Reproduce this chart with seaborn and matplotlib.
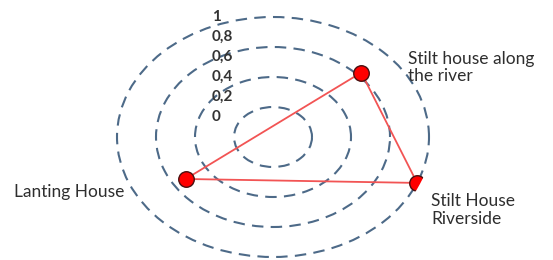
import numpy as np
import matplotlib
matplotlib.use("Agg")
import matplotlib.pyplot as plt
import seaborn as sns
import pandas as pd

# --- data --------------------------------------------------------
categories = ["Stilt house along\nthe river", "Stilt House\nRiverside", "Lanting House"]
values = [0.78, 1.0, 0.66]
angles_deg = [43.5, -22.5, 212.0]          # direction of each category axis
ring_levels = [0.25, 0.5, 0.75, 1.0]
scale_labels = ["1", "0,8", "0,6", "0,4", "0,2", "0"]

sns.set_style("white")
plt.rcParams["font.family"] = ["Lato", "DejaVu Sans"]

W, H = 553, 260
fig = plt.figure(figsize=(W / 100, H / 100), dpi=100)

cx, cy, rx, ry = 273, 137, 156, 120
pad = 1.02
ax = fig.add_axes([(cx - rx * pad) / W, (H - cy - ry * pad) / H,
                   2 * rx * pad / W, 2 * ry * pad / H], projection="polar")
ax.set_aspect("auto")
ax.set_ylim(0, pad)
ax.set_xticks([])
ax.set_yticks(ring_levels)
ax.set_yticklabels([])
ax.xaxis.grid(False)
ax.yaxis.grid(True, color="#4d6a88", linestyle=(0, (5.5, 3.5)), linewidth=1.5)
ax.spines["polar"].set_visible(False)
ax.patch.set_alpha(0)

df = pd.DataFrame({"cat": categories, "val": values,
                   "theta": np.deg2rad(angles_deg)})
closed = pd.concat([df, df.iloc[:1]], ignore_index=True)

sns.lineplot(data=closed, x="theta", y="val", sort=False, estimator=None,
             color="#f25454", linewidth=1.3, ax=ax, legend=False)
sns.scatterplot(data=df, x="theta", y="val", color="#ff0000", s=125,
                edgecolor="#4a1010", linewidth=1.0, ax=ax, zorder=5, legend=False)
ax.set_xlabel("")
ax.set_ylabel("")

# stacked scale labels
for i, lab in enumerate(scale_labels):
    fig.text(212 / W, 1 - (17 + i * 20) / H, lab, ha="left", va="center",
             fontsize=11, fontweight="bold", color="#333333")

# category labels
label_pos = [(408, 67.5), (431, 210), (14, 192)]
for lab, (px, py) in zip(categories, label_pos):
    fig.text(px / W, 1 - py / H, lab, ha="left", va="center",
             fontsize=12.5, color="#2e2e2e", linespacing=1.15)

fig.savefig("out.png", dpi=100)
